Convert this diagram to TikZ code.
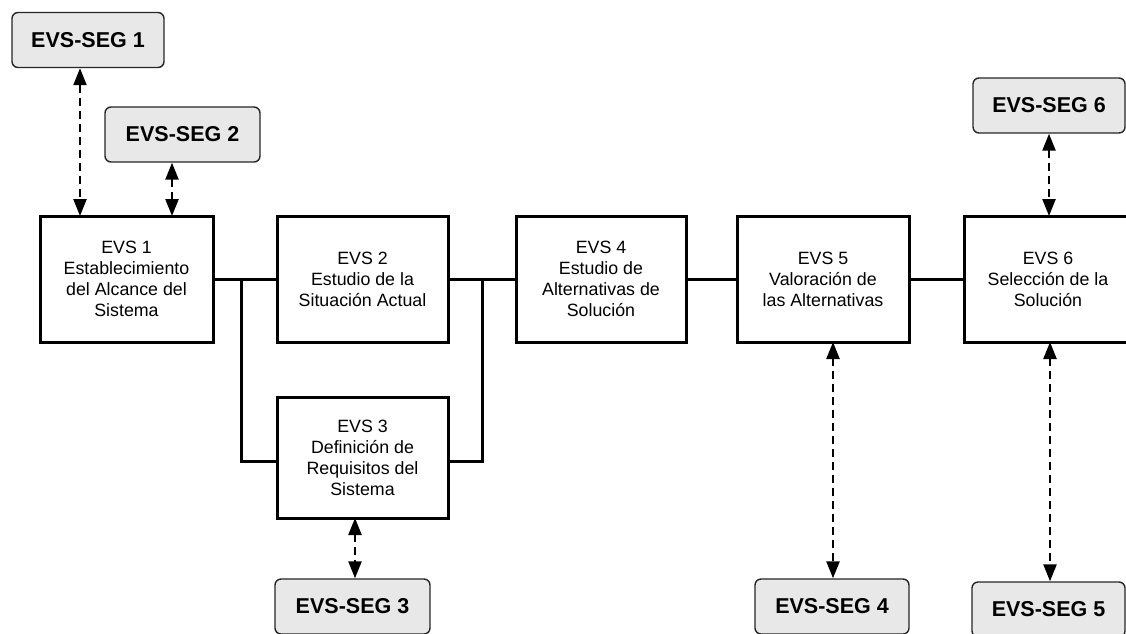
\documentclass[tikz,border=0pt]{standalone}
\usepackage{fontspec}
\setmainfont{Liberation Sans}
\usetikzlibrary{arrows.meta}

\begin{document}
\begin{tikzpicture}[x=1pt,y=-1pt,
  stage/.style={draw, line width=3pt, fill=white, align=center,
    font=\fontsize{17.8}{21}\selectfont, inner sep=0pt},
  seg/.style={draw=black!85, line width=1.4pt, fill=gray!18, rounded corners=6pt,
    font=\fontsize{21.5}{24}\selectfont\bfseries, inner sep=0pt,
    minimum width=153pt, minimum height=55pt},
  link/.style={line width=3pt},
  ctl/.style={line width=2.4pt, dash pattern=on 8pt off 5pt,
    {Triangle[length=17pt,width=13pt]}-{Triangle[length=17pt,width=13pt]}}]

\useasboundingbox (0,0) rectangle (1126,633);
\clip (0,0) rectangle (1126,633);

% main stages
\node[stage, minimum width=173pt, minimum height=126pt] (evs1) at (126.5,279)
  {EVS 1\\Establecimiento\\del Alcance del\\Sistema};
\node[stage, minimum width=171pt, minimum height=126pt] (evs2) at (362.5,279)
  {EVS 2\\Estudio de la\\Situación Actual};
\node[stage, minimum width=171pt, minimum height=121pt] (evs3) at (362.5,457.5)
  {EVS 3\\Definición de\\Requisitos del\\Sistema};
\node[stage, minimum width=170pt, minimum height=126pt] (evs4) at (601,279)
  {EVS 4\\Estudio de\\Alternativas de\\Solución};
\node[stage, minimum width=172pt, minimum height=126pt] (evs5) at (823,279)
  {EVS 5\\Valoración de\\las Alternativas};
\node[stage, minimum width=168pt, minimum height=126pt] (evs6) at (1048,279)
  {EVS 6\\Selección de la\\Solución};

% security activities
\node[seg, minimum width=152pt] (seg1) at (88,40) {EVS-SEG 1};
\node[seg, minimum width=155pt] (seg2) at (182.5,134.5) {EVS-SEG 2};
\node[seg, minimum width=155pt] (seg3) at (352.5,606.5) {EVS-SEG 3};
\node[seg, minimum width=154pt] (seg4) at (832,606.5) {EVS-SEG 4};
\node[seg, minimum width=153pt] (seg5) at (1048.5,609.5) {EVS-SEG 5};
\node[seg, minimum width=152pt] (seg6) at (1049,105.5) {EVS-SEG 6};

% branch points of the parallel path through EVS 3
\coordinate (splitL) at (241,461);
\coordinate (splitR) at (482,461);

\draw[link] (evs1.east) -- (evs2.west);
\draw[link] (evs2.east) -- (evs4.west);
\draw[link] (evs4.east) -- (evs5.west);
\draw[link] (evs5.east) -- (evs6.west);
\draw[link] (splitL |- evs1.east) -- (splitL) -- (evs3.west |- splitL);
\draw[link] (splitR |- evs2.east) -- (splitR) -- (evs3.east |- splitR);

% columns of the dashed links
\coordinate (c1) at (80,0);
\coordinate (c2) at (172,0);
\coordinate (c3) at (355,0);
\coordinate (c4) at (833,0);
\coordinate (c5) at (1050,0);
\coordinate (c6) at (1049,0);

\draw[ctl] (seg1.south -| c1) -- ([yshift=-1.5pt]evs1.north -| c1);
\draw[ctl] (seg2.south -| c2) -- ([yshift=-1.5pt]evs1.north -| c2);
\draw[ctl] ([yshift=1.5pt]evs3.south -| c3) -- (seg3.north -| c3);
\draw[ctl] ([yshift=1.5pt]evs5.south -| c4) -- (seg4.north -| c4);
\draw[ctl] ([yshift=1.5pt]evs6.south -| c5) -- (seg5.north -| c5);
\draw[ctl] (seg6.south -| c6) -- ([yshift=-1.5pt]evs6.north -| c6);
\end{tikzpicture}
\end{document}
